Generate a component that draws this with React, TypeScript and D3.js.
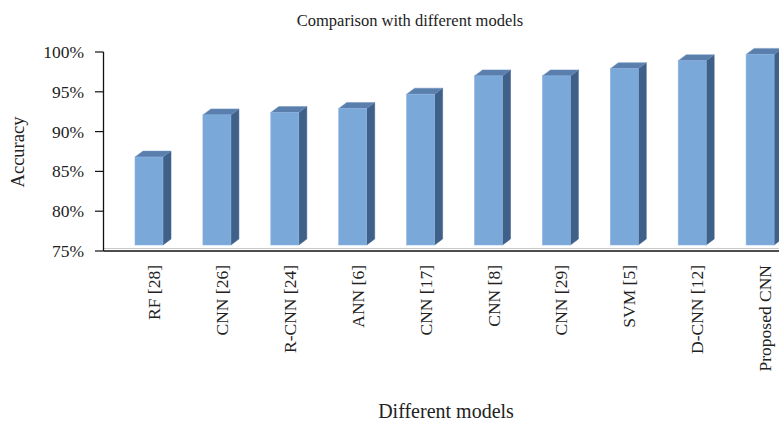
import React from "react";
import * as d3 from "d3";

const categories = ["RF [28]", "CNN [26]", "R-CNN [24]", "ANN [6]", "CNN [17]", "CNN [8]", "CNN [29]", "SVM [5]", "D-CNN [12]", "Proposed CNN"];
const accuracy = [86.8, 92.1, 92.4, 92.9, 94.7, 97.0, 97.0, 97.9, 98.9, 99.7];
const yTicks = [75, 80, 85, 90, 95, 100];

const W = 779;
const H = 422;
const FONT = "'Liberation Serif', 'DejaVu Serif', serif";

export default function App() {
  const axisX = 103.5;
  const axisY = 251;
  const y = d3.scaleLinear().domain([75, 100]).range([251, 52]);
  const x = d3.scaleBand<string>().domain(categories).range([101, 780]).paddingInner(0).paddingOuter(0);
  const frontW = 28;
  const depthX = 8;
  const depthY = 6;
  const floorY = y(75) - 6;

  return (
    <svg width={W} height={H} style={{ position: "absolute", left: 0, top: 0, background: "#fff" }} fontFamily={FONT}>
      <text x={410} y={26} textAnchor="middle" fontSize={16.5} fill="#222">Comparison with different models</text>

      {categories.map((c, i) => {
        const fl = (x(c) as number) + 34;
        const fr = fl + frontW;
        const top = y(accuracy[i]);
        const side = `M${fr},${top} L${fr + depthX},${top - depthY} L${fr + depthX},${floorY - depthY} L${fr},${floorY} Z`;
        const lid = `M${fl},${top} L${fl + depthX},${top - depthY} L${fr + depthX},${top - depthY} L${fr},${top} Z`;
        return (
          <g key={c}>
            <path d={side} fill="#3F6089" stroke="#3a5a80" strokeWidth={0.5} />
            <path d={lid} fill="#5A7FAD" stroke="#6f93c0" strokeWidth={0.5} />
            <rect x={fl} y={top} width={frontW} height={floorY - top} fill="#7AA8D9" stroke="#8db5e0" strokeWidth={0.6} />
          </g>
        );
      })}

      <line x1={axisX} x2={W} y1={248.5} y2={248.5} stroke="#c8c8c8" strokeWidth={1} />
      <line x1={axisX} x2={W} y1={axisY} y2={axisY} stroke="#111" strokeWidth={1.3} />
      <line x1={axisX} x2={axisX} y1={y(100)} y2={axisY} stroke="#111" strokeWidth={1.3} />
      {yTicks.map((t) => (
        <g key={t}>
          <line x1={95} x2={axisX} y1={y(t)} y2={y(t)} stroke="#111" strokeWidth={1.2} />
          <text x={84} y={y(t) + 6} textAnchor="end" fontSize={17.5} fill="#222">{t}%</text>
        </g>
      ))}
      <text transform={`translate(24,152) rotate(-90)`} textAnchor="middle" fontSize={18.5} fill="#222">Accuracy</text>

      {categories.map((c) => {
        const cx = (x(c) as number) + 51;
        return (
          <text key={c} transform={`translate(${cx + 8},265) rotate(-90)`} textAnchor="end" fontSize={17.5} fill="#222">{c}</text>
        );
      })}

      <text x={446} y={418} textAnchor="middle" fontSize={20} fill="#222">Different models</text>
    </svg>
  );
}
